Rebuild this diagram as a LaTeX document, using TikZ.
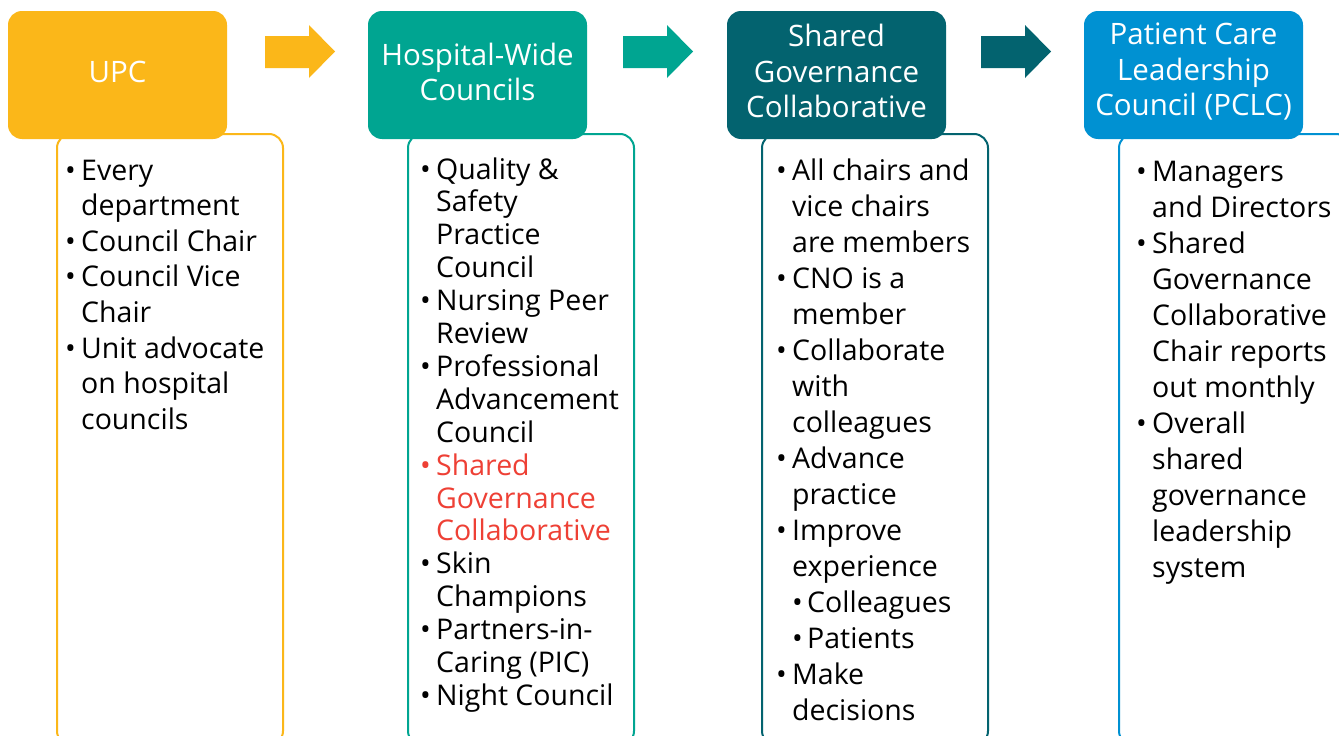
\documentclass[tikz,border=0pt]{standalone}
\usepackage{fontspec}
\setmainfont{Open Sans}
\usepackage{array}
\definecolor{cyel}{HTML}{FBB719}
\definecolor{cteal}{HTML}{00A591}
\definecolor{cdark}{HTML}{03636F}
\definecolor{cblue}{HTML}{0091D2}
\definecolor{cred}{HTML}{EE4035}
\newcommand{\bl}{\makebox[16pt][l]{•}}
\newcommand{\sbl}{\makebox[15pt][l]{•}}
\tikzset{
  head/.style={rounded corners=14pt},
  body/.style={draw=#1, line width=2pt, fill=white, rounded corners=14pt},
  htext/.style={text=white, align=center, font=\fontsize{29.5}{35.5}\selectfont, inner sep=0pt},
  btext/.style={anchor=base west, inner sep=0pt, text=black},
}
\begin{document}
\begin{tikzpicture}[x=1pt,y=-1pt]
\useasboundingbox (0,0) rectangle (1339,736);
\clip (0,0) rectangle (1339,736);
\fill[white] (0,0) rectangle (1339,736);
% bodies
\draw[body=cyel] (57,134) rectangle (283,745);
\draw[body=cteal] (408,134) rectangle (634,745);
\draw[body=cdark] (762,134) rectangle (988,745);
\draw[body=cblue] (1119,134) rectangle (1350,745);
% headers
\fill[cyel, head] (8,11) rectangle (227,139);
\fill[cteal, head] (368,11) rectangle (587,139);
\fill[cdark, head] (727,11) rectangle (946,139);
\fill[cblue, head] (1084,11) rectangle (1303,139);
\node[htext] (h1) at (117.5,72) {UPC};
\node[htext] (h2) at (477.5,72) {Hospital-Wide\\Councils};
\node[htext] (h3) at (836.5,71) {Shared\\Governance\\Collaborative};
\node[htext] (h4) at (1193.5,72) {Patient Care\\Leadership\\Council (PCLC)};
% arrows
\fill[cyel] (265,36) -- (309,36) -- (309,25) -- (335,51.5) -- (309,78) -- (309,68) -- (265,68) -- cycle;
\fill[cteal] (623,36) -- (667,36) -- (667,25) -- (693,51.5) -- (667,78) -- (667,68) -- (623,68) -- cycle;
\fill[cdark] (981,36) -- (1025,36) -- (1025,25) -- (1051,51.5) -- (1025,78) -- (1025,68) -- (981,68) -- cycle;
% body texts
\node[btext, font=\fontsize{28.5}{35.6}\selectfont] (t1) at (65,180) {\begin{tabular}[t]{@{}p{16pt}@{}l@{}}
\bl & Every\\
 & department\\
\bl & Council Chair\\
\bl & Council Vice\\
 & Chair\\
\bl & Unit advocate\\
 & on hospital\\
 & councils
\end{tabular}};
\node[btext, font=\fontsize{28.5}{32.9}\selectfont] (t2) at (420,179) {\begin{tabular}[t]{@{}p{16pt}@{}l@{}}
\bl & Quality \&\\
 & Safety\\
 & Practice\\
 & Council\\
\bl & Nursing Peer\\
 & Review\\
\bl & Professional\\
 & Advancement\\
 & Council\\
\textcolor{cred}{\bl} & \textcolor{cred}{Shared}\\
 & \textcolor{cred}{Governance}\\
 & \textcolor{cred}{Collaborative}\\
\bl & Skin\\
 & Champions\\
\bl & Partners-in-\\
 & Caring (PIC)\\
\bl & Night Council
\end{tabular}};
\node[btext, font=\fontsize{28.5}{36}\selectfont] (t3) at (776,180) {\begin{tabular}[t]{@{}p{16pt}@{}l@{}}
\bl & All chairs and\\
 & vice chairs\\
 & are members\\
\bl & CNO is a\\
 & member\\
\bl & Collaborate\\
 & with\\
 & colleagues\\
\bl & Advance\\
 & practice\\
\bl & Improve\\
 & experience\\
 & \sbl Colleagues\\
 & \sbl Patients\\
\bl & Make\\
 & decisions
\end{tabular}};
\node[btext, font=\fontsize{28.5}{36}\selectfont] (t4) at (1136,181) {\begin{tabular}[t]{@{}p{16pt}@{}l@{}}
\bl & Managers\\
 & and Directors\\
\bl & Shared\\
 & Governance\\
 & Collaborative\\
 & Chair reports\\
 & out monthly\\
\bl & Overall\\
 & shared\\
 & governance\\
 & leadership\\
 & system
\end{tabular}};
\end{tikzpicture}
\end{document}
